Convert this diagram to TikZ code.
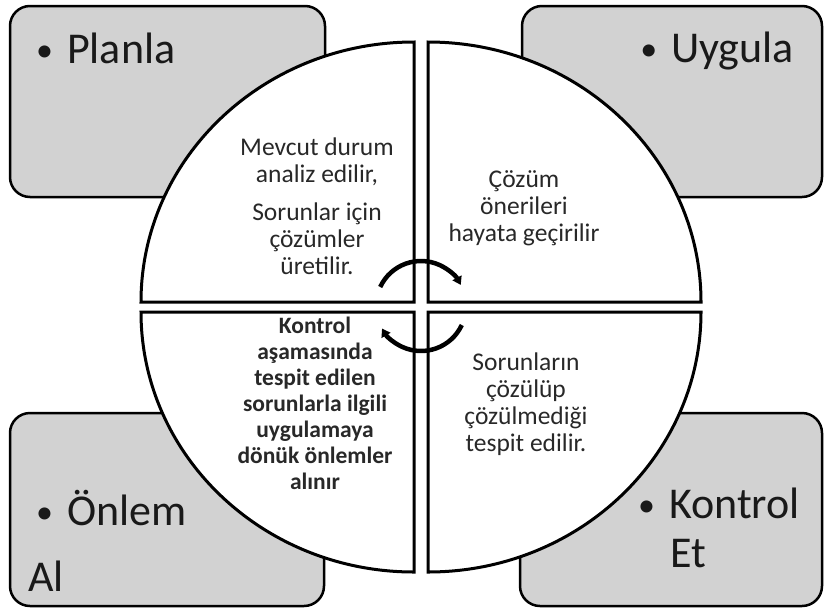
\documentclass[tikz,border=0pt]{standalone}
\usepackage{fontspec}
\setmainfont{Carlito}
\usetikzlibrary{arrows.meta}
\definecolor{boxgray}{RGB}{210,210,210}
\definecolor{textgray}{RGB}{40,40,40}
\newcommand{\dotmark}{\raisebox{2pt}{\fontsize{34}{34}\selectfont•}\hspace{14pt}}
\tikzset{
  phasebox/.style={draw=black, line width=2.5pt, fill=boxgray, rounded corners=20pt},
  quarter/.style={draw=black, line width=3pt, fill=white, line join=miter},
  boxlabel/.style={inner sep=0pt, text=black!90, font=\fontsize{44}{50}\selectfont},
  steptext/.style={inner sep=0pt, align=center, text=textgray,
                   font=\fontsize{25.5}{27}\selectfont},
  cyclearrow/.style={-{Triangle[length=8pt, width=10pt]}, line width=4.5pt, draw=black},
}
\begin{document}
\begin{tikzpicture}[x=1pt, y=1pt]
  \useasboundingbox (0,0) rectangle (824,-611);

  % corner boxes
  \draw[phasebox] (10,-6) rectangle (325,-197);
  \draw[phasebox] (522,-6) rectangle (822,-197);
  \draw[phasebox] (10,-413) rectangle (324,-606);
  \draw[phasebox] (520,-413) rectangle (822,-606);

  % box labels
  \node[boxlabel, anchor=base west] (planla) at (36,-63) {\dotmark Planla};
  \node[boxlabel, anchor=base east] (uygula) at (794,-62) {\dotmark Uygula};
  \node[boxlabel, anchor=base west] (onlem) at (36,-525) {\dotmark Önlem};
  \node[boxlabel, anchor=base west] (onlemal) at (28,-591) {Al};
  \node[boxlabel, anchor=base west] (kontrol) at (638,-518) {\dotmark Kontrol};
  \node[boxlabel, anchor=base west] (kontrolet) at (670,-567) {Et};

  % four quarters of the cycle
  \draw[quarter] (414,-302) -- (141,-302)
    arc[start angle=180, end angle=90, x radius=273pt, y radius=260pt] -- cycle;
  \draw[quarter] (428,-302) -- (428,-42)
    arc[start angle=90, end angle=0, x radius=273pt, y radius=260pt] -- cycle;
  \draw[quarter] (428,-312) -- (701,-312)
    arc[start angle=0, end angle=-90, x radius=273pt, y radius=260pt] -- cycle;
  \draw[quarter] (414,-312) -- (414,-572)
    arc[start angle=-90, end angle=-180, x radius=273pt, y radius=260pt] -- cycle;

  % quarter texts
  \node[steptext] (plantext) at (317,-206)
    {Mevcut durum\\analiz edilir,\\[11pt]Sorunlar için\\çözümler\\üretilir.};
  \node[steptext] (dotext) at (524,-208)
    {Çözüm\\önerileri\\hayata geçirilir};
  \node[steptext, font=\fontsize{23.5}{26}\selectfont\bfseries] (acttext) at (315,-403)
    {Kontrol\\aşamasında\\tespit edilen\\sorunlarla ilgili\\uygulamaya\\dönük önlemler\\alınır};
  \node[steptext] (checktext) at (526,-404)
    {Sorunların\\çözülüp\\çözülmediği\\tespit edilir.};

  % cycle arrows
  \coordinate (hub) at (421,-306);
  \draw[cyclearrow] ([shift={(155:45)}]hub) arc[start angle=155, end angle=28, radius=45pt];
  \draw[cyclearrow] ([shift={(-25:45)}]hub) arc[start angle=-25, end angle=-150, radius=45pt];
\end{tikzpicture}
\end{document}
